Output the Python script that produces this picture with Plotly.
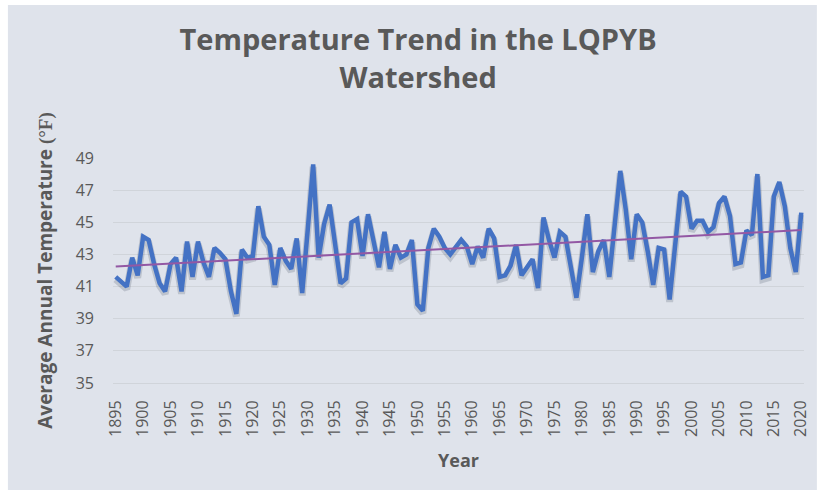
import numpy as np
import plotly.graph_objects as go

# Annual average temperature, LQPYB watershed (°F)
years = list(range(1895, 2021))
temps = [
    41.6, 41.3, 41.0, 42.8, 41.7, 44.1, 43.9, 42.4, 41.2, 40.7,   # 1895-1904
    42.4, 42.8, 40.7, 43.8, 41.6, 43.8, 42.5, 41.6, 43.4, 43.1,   # 1905-1914
    42.7, 40.7, 39.3, 43.3, 42.8, 42.9, 46.0, 44.1, 43.6, 41.1,   # 1915-1924
    43.4, 42.6, 42.1, 44.0, 40.6, 44.5, 48.6, 42.8, 44.9, 46.1,   # 1925-1934
    43.7, 41.2, 41.5, 45.0, 45.2, 42.9, 45.5, 43.8, 42.2, 44.4,   # 1935-1944
    42.1, 43.6, 42.8, 43.0, 43.9, 39.9, 39.5, 43.4, 44.6, 44.1,   # 1945-1954
    43.4, 43.0, 43.4, 43.9, 43.5, 42.4, 43.5, 42.8, 44.6, 44.0,   # 1955-1964
    41.6, 41.7, 42.3, 43.6, 41.7, 42.2, 42.7, 40.9, 45.3, 43.9,   # 1965-1974
    42.8, 44.4, 44.1, 42.2, 40.3, 42.8, 45.5, 41.9, 43.2, 43.9,   # 1975-1984
    41.6, 44.9, 48.2, 45.8, 42.7, 45.5, 45.0, 43.2, 41.1, 43.4,   # 1985-1994
    43.3, 40.2, 43.6, 46.9, 46.6, 44.6, 45.1, 45.1, 44.4, 44.7,   # 1995-2004
    46.2, 46.6, 45.4, 42.4, 42.5, 44.5, 44.2, 48.0, 41.6, 41.7,   # 2005-2014
    46.6, 47.5, 46.0, 43.4, 41.9, 45.6,                           # 2015-2020
]
x_ticks = list(range(1895, 2021, 5))
y_ticks = list(range(35, 50, 2))

# Linear trendline fitted to the annual series
slope, intercept = np.polyfit(years, temps, 1)
trend = [slope * yr + intercept for yr in years]

grey_text = "#595959"
bg = "#dfe3eb"
font_family = "Open Sans, Lato, sans-serif"

fig = go.Figure()

# soft drop shadow under the main series
fig.add_trace(go.Scatter(
    x=years, y=[t - 0.15 for t in temps], mode="lines",
    line=dict(color="rgba(40,50,70,0.18)", width=7),
    hoverinfo="skip", showlegend=False,
))
fig.add_trace(go.Scatter(
    x=years, y=temps, mode="lines",
    line=dict(color="#4472c4", width=4.5),
    showlegend=False,
))
fig.add_trace(go.Scatter(
    x=years, y=trend, mode="lines",
    line=dict(color="#9358a4", width=2),
    showlegend=False,
))

fig.update_layout(
    width=823, height=500,
    margin=dict(l=113, r=13, t=158, b=117),
    paper_bgcolor="white",
    plot_bgcolor=bg,
    font=dict(family=font_family, color=grey_text),
    title=dict(
        text="<b>Temperature Trend in the LQPYB<br>Watershed</b>",
        font=dict(size=29, color=grey_text, family=font_family),
        x=0.508, xref="container", xanchor="center",
        y=0.9, yref="container", yanchor="middle",
    ),
    shapes=[dict(
        type="rect", xref="paper", yref="paper",
        x0=-106 / 697, x1=1 + 13 / 697,
        y0=-107 / 225, y1=1 + 153 / 225,
        fillcolor=bg, line=dict(width=0), layer="below",
    )],
)

fig.update_xaxes(
    range=[1894.5, 2020.5],
    tickmode="array", tickvals=x_ticks, ticktext=[str(v) for v in x_ticks],
    tickangle=-90, tickfont=dict(size=16, color=grey_text),
    showgrid=False, zeroline=False,
    showline=True, linecolor="#d0d4da", linewidth=1,
    ticks="", ticklabelstandoff=10,
    title=dict(text="<b>Year</b>", font=dict(size=18, color=grey_text), standoff=18),
)
fig.update_yaxes(
    range=[35, 49],
    tickmode="array", tickvals=y_ticks,
    tickfont=dict(size=16, color=grey_text),
    showgrid=True, gridcolor="#d0d4da", gridwidth=1,
    zeroline=False, showline=False,
    ticks="", ticklabelstandoff=18,
    title=dict(
        text='<b>Average Annual Temperature <span style="font-family:Liberation Serif, serif">(°F)</span></b>',
        font=dict(size=19, color=grey_text), standoff=18,
    ),
)

fig.write_html("out.html")
